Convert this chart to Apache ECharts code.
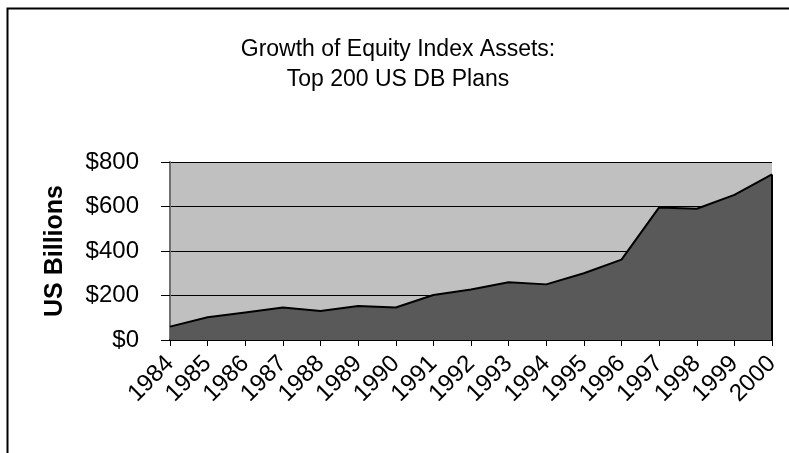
<!DOCTYPE html>
<html>
<head>
<meta charset="utf-8">
<script src="https://cdn.jsdelivr.net/npm/echarts@6/dist/echarts.min.js"></script>
<style>html,body{margin:0;padding:0;background:#fff}#c{width:789px;height:453px}</style>
</head>
<body>
<div id="c"></div>
<script>
const years = ['1984','1985','1986','1987','1988','1989','1990','1991','1992','1993','1994','1995','1996','1997','1998','1999','2000'];
const assets = [60, 102, 124, 146, 130, 153, 146, 202, 227, 260, 250, 300, 361, 596, 590, 652, 744];
const yTicks = [0, 200, 400, 600, 800];
const titleLines = ['Growth of Equity Index Assets:', 'Top 200 US DB Plans'];
const yName = 'US Billions';

const chart = echarts.init(document.getElementById('c'), null, {renderer: 'canvas'});
const FONT = 'Liberation Sans, Arial, sans-serif';
const lastYear = years[years.length - 1];
const lastVal = assets[assets.length - 1];
chart.setOption({
  animation: false,
  backgroundColor: '#fff',
  title: {
    text: titleLines.join('\n'),
    left: 393, top: 30, textAlign: 'center',
    textStyle: {fontFamily: FONT, fontSize: 23, fontWeight: 'normal', color: '#000', lineHeight: 30, align: 'center'}
  },
  graphic: [{
    type: 'rect', left: 5, top: 6, silent: true,
    shape: {x: 0, y: 0, width: 900, height: 600},
    style: {fill: 'none', stroke: '#000', lineWidth: 2}
  }],
  grid: {left: 170, right: 17, top: 162, bottom: 113, show: true, backgroundColor: '#c0c0c0', borderWidth: 0},
  xAxis: {
    type: 'category', data: years, boundaryGap: false,
    axisLine: {lineStyle: {color: '#000', width: 2}},
    axisTick: {show: true, length: 6, lineStyle: {color: '#000', width: 1}},
    axisLabel: {rotate: 45, fontFamily: FONT, fontSize: 24, color: '#000', margin: 20, interval: 0},
    splitLine: {show: false}
  },
  yAxis: {
    type: 'value', min: yTicks[0], max: yTicks[yTicks.length - 1], interval: yTicks[1] - yTicks[0],
    name: yName, nameLocation: 'middle', nameGap: 102, nameRotate: 90,
    nameTextStyle: {fontFamily: FONT, fontSize: 25, fontWeight: 'bold', color: '#000'},
    axisLine: {show: true, lineStyle: {color: '#707070', width: 2}},
    axisTick: {show: true, length: 9, lineStyle: {color: '#000', width: 1}},
    axisLabel: {fontFamily: FONT, fontSize: 24, color: '#000', margin: 31, formatter: v => '$' + v},
    splitLine: {show: true, lineStyle: {color: '#000', width: 1}}
  },
  series: [{
    type: 'line', data: assets, symbol: 'none',
    lineStyle: {color: '#000', width: 2},
    areaStyle: {color: '#595959', opacity: 1},
    markLine: {
      silent: true, symbol: 'none', label: {show: false},
      lineStyle: {color: '#000', width: 2, type: 'solid'},
      data: [[{coord: [lastYear, 0]}, {coord: [lastYear, lastVal]}]]
    }
  }]
});
</script>
</body>
</html>
